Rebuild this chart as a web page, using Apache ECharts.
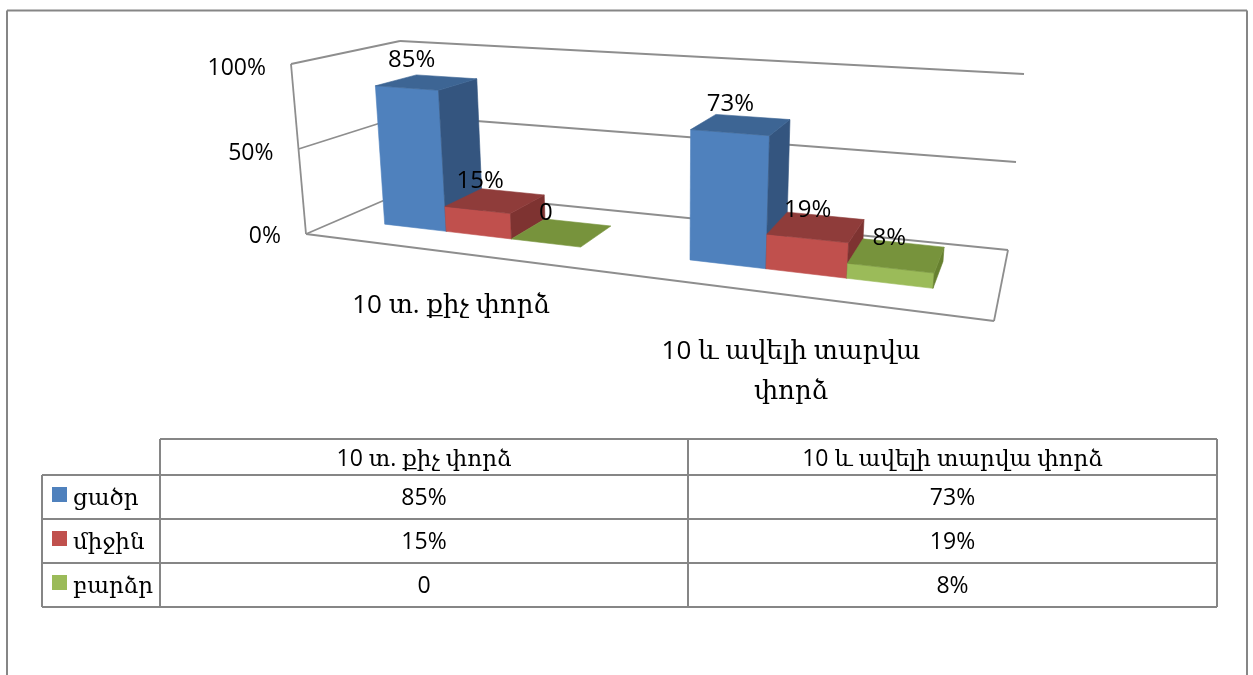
<!DOCTYPE html>
<html>
<head>
<meta charset="utf-8">
<style>html,body{margin:0;padding:0;background:#fff}#chart{width:1253px;height:675px}</style>
<script src="https://cdn.jsdelivr.net/npm/echarts@6/dist/echarts.min.js"></script>
</head>
<body>
<div id="chart"></div>
<script>
// Data
const categories = ['10 տ. քիչ փորձ', '10 և ավելի տարվա փորձ'];
const wrappedCategories = ['10 տ. քիչ փորձ', '10 և ավելի տարվա\nփորձ'];
const seriesNames = ['ցածր', 'միջին', 'բարձր'];
const low = [85, 73];
const medium = [15, 19];
const high = [0, 8];
const axisTicks = [0, 50, 100];

// Face colours per series: front, side, top
const palette = [
  { front: '#4f81bd', side: '#34557f', top: '#3d6594' },
  { front: '#c0504d', side: '#7e3331', top: '#8f3c3a' },
  { front: '#9bbb59', side: '#66802f', top: '#77933c' }
];

const LINE = '#868686';
const WALL_LINE = '#8e8e8e';
const FONT = '"Open Sans","DejaVu Serif",sans-serif';

// Maps the unit square onto a quadrilateral given as [u0v0, u1v0, u1v1, u0v1]
function quadMap(q) {
  const [p0, p1, p2, p3] = q;
  const dx1 = p1[0] - p2[0], dx2 = p3[0] - p2[0], sx = p0[0] - p1[0] + p2[0] - p3[0];
  const dy1 = p1[1] - p2[1], dy2 = p3[1] - p2[1], sy = p0[1] - p1[1] + p2[1] - p3[1];
  const den = dx1 * dy2 - dx2 * dy1;
  const g = (sx * dy2 - dx2 * sy) / den;
  const h = (dx1 * sy - sx * dy1) / den;
  const a = p1[0] - p0[0] + g * p1[0], b = p3[0] - p0[0] + h * p3[0], c = p0[0];
  const d = p1[1] - p0[1] + g * p1[1], e = p3[1] - p0[1] + h * p3[1], f = p0[1];
  return (u, v) => {
    const w = g * u + h * v + 1;
    return [(a * u + b * v + c) / w, (d * u + e * v + f) / w];
  };
}

// Perspective box of the plot: floor plane and ceiling plane
const floor = quadMap([[306, 234], [994, 321], [1008, 250], [408, 190]]);
const ceiling = quadMap([[291, 64], [1016, 113], [1024, 74], [400, 41]]);

// u: along the category axis, h: value share 0..1, d: depth 0..1
function project(u, h, d) {
  const a = floor(u, d), b = ceiling(u, d);
  return [a[0] + (b[0] - a[0]) * h, a[1] + (b[1] - a[1]) * h];
}

const depthFront = 0.31, depthBack = 0.71;
const groupShift = [0.008, 0.010];
const groupWidth = [0.344, 0.324];
const barScale = 0.985;
// Label placement adjustments by series, then category
const labelNudge = [
  [[0, -2], [0, -1]],
  [[0, 0], [2, 3]],
  [[-1, 0], [3, 3]]
];

function toPlot(params, pt) {
  const c = params.coordSys;
  return { u: (pt[0] - c.x) / c.width, h: (c.y + c.height - pt[1]) / c.height };
}

function poly(points, fill, z2) {
  return {
    type: 'polygon', z2,
    shape: { points },
    style: { fill, stroke: fill, lineWidth: 0.6 }
  };
}

function barRenderer(seriesIndex) {
  const colors = palette[seriesIndex];
  return function (params, api) {
    const cat = api.value(0), val = api.value(1);
    const top = toPlot(params, api.coord([cat, val]));
    const w = groupWidth[cat] / 3;
    const u0 = top.u + groupShift[cat] - groupWidth[cat] / 2 + w * seriesIndex;
    const u1 = u0 + w;
    const h = top.h * barScale;
    const z = 10 + seriesIndex * 3;
    const fb0 = project(u0, 0, depthFront), fb1 = project(u1, 0, depthFront);
    const ft0 = project(u0, h, depthFront), ft1 = project(u1, h, depthFront);
    const bb1 = project(u1, 0, depthBack);
    const bt0 = project(u0, h, depthBack), bt1 = project(u1, h, depthBack);
    const cx = (ft0[0] + ft1[0] + bt0[0] + bt1[0]) / 4;
    const cy = (ft0[1] + ft1[1] + bt0[1] + bt1[1]) / 4;
    const nudge = labelNudge[seriesIndex][cat];
    const children = [];
    if (val > 0) {
      children.push(poly([fb0, fb1, ft1, ft0], colors.front, z));
      children.push(poly([fb1, bb1, bt1, ft1], colors.side, z));
    }
    children.push(poly([ft0, ft1, bt1, bt0], colors.top, z + 1));
    children.push({
      type: 'text', z2: 100,
      style: {
        text: val === 0 ? '0' : val + '%',
        x: cx - 17 + 8 * top.u + nudge[0], y: cy - 20 + nudge[1],
        align: 'center', verticalAlign: 'middle',
        font: '24px ' + FONT, fill: '#000'
      }
    });
    return { type: 'group', children };
  };
}

function seg(a, b) {
  return {
    type: 'line', z2: 1,
    shape: { x1: a[0], y1: a[1], x2: b[0], y2: b[1] },
    style: { stroke: WALL_LINE, lineWidth: 1.8, fill: null }
  };
}

// Walls, gridlines and value labels follow the hidden value axis
function wallRenderer(params, api) {
  const val = api.value(1);
  const h = toPlot(params, api.coord([0, val])).h;
  const front = project(0, h, 0), corner = project(0, h, 1), end = project(1, h, 1);
  const children = [seg(front, corner), seg(corner, end)];
  children.push({
    type: 'text', z2: 5,
    style: {
      text: val + '%', x: front[0] - 25, y: front[1] + (val > 0 ? 4 : 2),
      align: 'right', verticalAlign: 'middle',
      font: '23px ' + FONT, fill: '#000'
    }
  });
  if (val === axisTicks[0]) {
    children.push(seg(project(0, 0, 0), project(1, 0, 0)));
    children.push(seg(project(1, 0, 0), project(1, 0, 1)));
    children.push(seg(project(0, 0, 0), project(0, 1, 0)));
  }
  return { type: 'group', children };
}

// Data table under the plot
const tableX = { key: 42, first: 160, mid: 688, right: 1217 };
const tableY = [439, 475, 519, 563, 607];
const allValues = [low, medium, high];
const fmt = v => (v === 0 ? '0' : v + '%');

function tableGraphics() {
  const out = [];
  const rule = (x1, y1, x2, y2) => out.push({
    type: 'line', shape: { x1, y1, x2, y2 },
    style: { stroke: LINE, lineWidth: 2 }
  });
  const label = (text, x, y, align, size) => out.push({
    type: 'text',
    style: { text, x, y, align: align || 'center', verticalAlign: 'middle',
             font: (size || 23) + 'px ' + FONT, fill: '#000', lineHeight: 40 }
  });
  // Frame around the whole figure, open at the bottom edge
  rule(7, 675, 7, 10.5); rule(7, 10.5, 1247, 10.5); rule(1247, 10.5, 1247, 675);
  // Table rules
  rule(tableX.first, tableY[0], tableX.right, tableY[0]);
  tableY.slice(1).forEach(y => rule(tableX.key, y, tableX.right, y));
  rule(tableX.key, tableY[1], tableX.key, tableY[4]);
  rule(tableX.first, tableY[0], tableX.first, tableY[4]);
  rule(tableX.mid, tableY[0], tableX.mid, tableY[4]);
  rule(tableX.right, tableY[0], tableX.right, tableY[4]);
  // Header row
  const colCentre = [(tableX.first + tableX.mid) / 2, (tableX.mid + tableX.right) / 2];
  categories.forEach((c, i) => label(c, colCentre[i], 459));
  // Body rows
  seriesNames.forEach((name, r) => {
    const yc = (tableY[r + 1] + tableY[r + 2]) / 2;
    out.push({ type: 'rect', shape: { x: 52, y: yc - 10, width: 15, height: 15 },
               style: { fill: palette[r].front } });
    label(name, 73, yc + 1.5, 'left');
    allValues[r].forEach((v, c) => label(fmt(v), colCentre[c], yc + 1.5));
  });
  // Category captions under the floor
  label(wrappedCategories[0], 451, 306, 'center', 26);
  label(wrappedCategories[1], 791, 372, 'center', 26);
  return out;
}

const chart = echarts.init(document.getElementById('chart'), null, { renderer: 'canvas' });
chart.setOption({
  animation: false,
  backgroundColor: '#fff',
  grid: { left: 0, right: 0, top: 0, bottom: 0 },
  xAxis: { type: 'category', data: categories, show: false },
  yAxis: { type: 'value', min: 0, max: 100, interval: 50, show: false },
  series: [
    {
      type: 'custom', name: 'walls', silent: true, clip: false,
      renderItem: wallRenderer,
      encode: { x: 0, y: 1 },
      data: axisTicks.map(t => [0, t]), z: 1
    }
  ].concat(allValues.map((vals, i) => ({
    type: 'custom', name: seriesNames[i], silent: true, clip: false,
    renderItem: barRenderer(i),
    encode: { x: 0, y: 1 },
    data: vals.map((v, c) => [c, v]), z: 2
  }))),
  graphic: { elements: tableGraphics() }
});
</script>
</body>
</html>
